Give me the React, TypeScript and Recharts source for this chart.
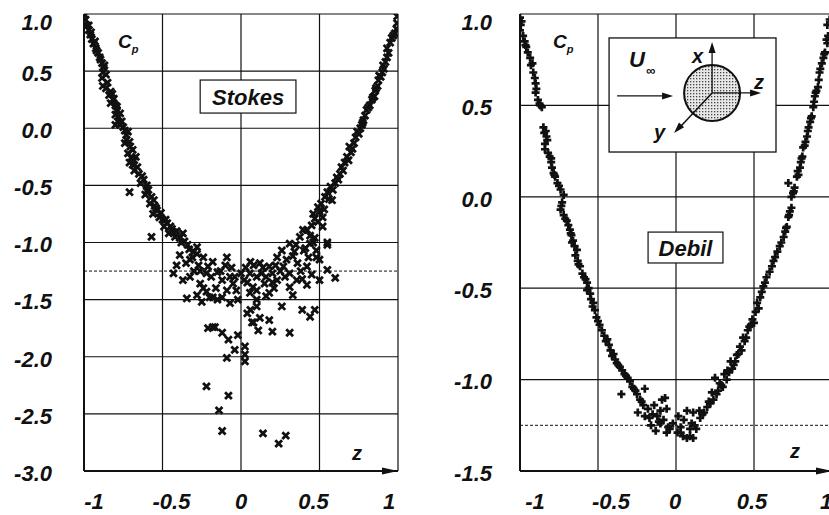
import React from 'react';
import {
  ScatterChart,
  Scatter,
  XAxis,
  YAxis,
  CartesianGrid,
  ReferenceLine,
  ReferenceArea,
  ReferenceDot,
} from 'recharts';

const FONT = '"Liberation Sans", Arial, Helvetica, sans-serif';
const INK = '#111';

// axis ticks
const zTicks = [-1, -0.5, 0, 0.5, 1];
const stokesTicks = [1, 0.5, 0, -0.5, -1, -1.5, -2, -2.5, -3];
const debilTicks = [1, 0.5, 0, -0.5, -1, -1.5];
const refCp = -1.25;

// Stokes (left panel) measured Cp vs z
const stokesZ = [
  -0.995, -0.99, -0.985, -0.97, -0.96, -0.95, -0.94, -0.925, -0.91, -0.9, -0.885, -0.875, -0.88, -0.86, -0.885,
  -0.88, -0.86, -0.83, -0.84, -0.815, -0.83, -0.8, -0.79, -0.8, -0.78, -0.785, -0.77, -0.8, -0.75, -0.74, -0.72,
  -0.73, -0.74, -0.71, -0.69, -0.72, -0.7, -0.71, -0.68, -0.66, -0.68, -0.65, -0.62, -0.64, -0.6, -0.59, -0.61,
  -0.57, -0.58, -0.55, -0.535, -0.56, -0.52, -0.5, -0.47, -0.49, -0.45, -0.43, -0.46, -0.41, -0.39, -0.37, -0.36,
  -0.34, -0.71, -0.57,
  -0.97, -0.955, -0.93, -0.92, -0.895, -0.87, -0.85, -0.82, -0.81, -0.79, -0.77, -0.76, -0.73, -0.705, -0.67,
  -0.69, -0.63, -0.6, -0.555, -0.54, -0.51, -0.48, -0.44, -0.42, -0.38, -0.33, -0.31, -0.35, -0.28,
  -0.28, -0.3, -0.24, -0.39, -0.325, -0.41, -0.43, -0.37, -0.325, -0.26, -0.24, -0.345, -0.2, -0.21, -0.15, -0.09,
  -0.12, -0.07, -0.05, -0.12, -0.07, -0.02, -0.15, -0.27, -0.3, -0.22, -0.18, -0.1, -0.06, -0.03, -0.16, -0.22,
  -0.25, -0.28,
  -0.26, -0.19, -0.13, -0.04, 0.0, 0.02, 0.06, 0.14, 0.16, 0.22, 0.25, 0.28, 0.33, 0.35, 0.41, 0.43, 0.47, 0.39,
  0.2, 0.1, -0.18, -0.09,
  0.057, 0.04, 0.076, 0.057, 0.1, 0.13, 0.15, 0.18, 0.23, 0.18, 0.23, 0.26, 0.29, 0.27, 0.31, 0.355, 0.31, 0.42,
  0.33, 0.26, 0.31, 0.375, 0.395, 0.44, 0.48, 0.5, 0.55, 0.42, 0.5, 0.55, 0.6, 0.03, 0.08, 0.1, 0.12, 0.2, 0.21,
  0.16, 0.36, 0.38, 0.45, 0.34,
  0.39, 0.44, 0.47, 0.06, 0.1, 0.12, 0.08, -0.18,
  -0.21, -0.166, -0.12, -0.08, -0.02, 0.025, -0.04, -0.09, 0.025, 0.025, 0.07, 0.11, 0.2, 0.31, 0.04, 0.18,
  -0.22, -0.08, -0.14, -0.12, 0.14, 0.285, 0.24,
  0.995, 0.994, 0.99, 0.98, 0.95, 0.96, 0.94, 0.93, 0.92, 0.9, 0.91, 0.875, 0.89, 0.855, 0.87, 0.834, 0.85, 0.8,
  0.82, 0.78, 0.79, 0.76, 0.77, 0.73, 0.75, 0.69, 0.72, 0.675, 0.7, 0.64, 0.66, 0.61, 0.63, 0.57, 0.6, 0.535, 0.55,
  0.49, 0.51, 0.47, 0.52, 0.46, 0.53, 0.42, 0.46, 0.55, 0.4, 0.48, 0.52, 0.58, 0.44,
  0.97, 0.93, 0.905, 0.88, 0.86, 0.84, 0.81, 0.775, 0.74, 0.71, 0.685, 0.65, 0.62, 0.585, 0.56, 0.5, 0.49, 0.45,
];
const stokesCp = [
  0.99, 0.95, 0.9, 0.86, 0.82, 0.78, 0.74, 0.7, 0.66, 0.62, 0.57, 0.53, 0.49, 0.47, 0.44,
  0.37, 0.35, 0.32, 0.29, 0.25, 0.22, 0.2, 0.16, 0.12, 0.1, 0.06, 0.03, 0.03, 0.01, -0.02, -0.03,
  -0.1, -0.13, -0.12, -0.19, -0.22, -0.26, -0.3, -0.28, -0.34, -0.37, -0.4, -0.45, -0.48, -0.5, -0.54, -0.58,
  -0.6, -0.66, -0.68, -0.72, -0.75, -0.78, -0.8, -0.83, -0.86, -0.86, -0.91, -0.92, -0.9, -0.96, -0.92, -0.99,
  -1.02, -0.56, -0.95,
  0.9, 0.84, 0.76, 0.68, 0.6, 0.55, 0.4, 0.3, 0.26, 0.19, 0.13, 0.06, -0.06, -0.16, -0.25,
  -0.32, -0.42, -0.55, -0.63, -0.7, -0.74, -0.8, -0.88, -0.95, -1.0, -1.06, -1.13, -1.18, -1.1,
  -1.04, -1.08, -1.13, -1.11, -1.15, -1.2, -1.27, -1.33, -1.3, -1.36, -1.4, -1.49, -1.48, -1.21, -1.26, -1.13,
  -1.33, -1.3, -1.36, -1.48, -1.53, -1.5, -1.5, -1.2, -1.25, -1.27, -1.17, -1.2, -1.22, -1.42, -1.4, -1.43,
  -1.52, -1.46,
  -1.25, -1.3, -1.25, -1.3, -1.27, -1.33, -1.17, -1.22, -1.3, -1.2, -1.25, -1.3, -1.12, -1.02, -1.05, -1.13, -0.96,
  -1.32, -1.35, -1.42, -1.48, -1.42,
  -1.27, -1.35, -1.39, -1.44, -1.5, -1.27, -1.36, -1.21, -1.13, -1.44, -1.33, -1.07, -1.15, -1.21, -1.27, -1.33,
  -1.39, -1.37, -1.46, -1.56, -1.01, -0.95, -0.89, -1.01, -1.07, -1.15, -1.02, -1.21, -1.33, -1.24, -1.31, -1.22,
  -1.2, -1.3, -1.18, -1.27, -1.4, -1.47, -1.18, -1.25, -1.28, -1.08,
  -1.59, -1.65, -1.59, -1.59, -1.56, -1.66, -1.7, -1.74,
  -1.75, -1.74, -1.79, -1.85, -1.81, -1.91, -1.94, -2.01, -1.98, -2.04, -1.7, -1.77, -1.78, -1.79, -1.62, -1.68,
  -2.26, -2.34, -2.47, -2.65, -2.67, -2.69, -2.76,
  0.98, 0.92, 0.87, 0.83, 0.75, 0.79, 0.66, 0.62, 0.58, 0.49, 0.52, 0.42, 0.45, 0.33, 0.37, 0.25, 0.28, 0.16,
  0.2, 0.07, 0.11, 0.0, 0.03, -0.08, -0.05, -0.16, -0.13, -0.25, -0.21, -0.34, -0.3, -0.43, -0.4, -0.51, -0.48,
  -0.6, -0.56, -0.69, -0.66, -0.79, -0.78, -0.75, -0.71, -0.89, -1.0, -1.0, -1.07, -1.13, -0.86, -0.63, -0.94,
  0.81, 0.7, 0.55, 0.46, 0.35, 0.27, 0.18, 0.05, -0.03, -0.18, -0.28, -0.37, -0.45, -0.54, -0.62, -0.73, -0.82, -0.85,
];

// Debil (right panel) computed Cp vs z
const debilZ = [
  -1.0, -0.995, -1.0, -0.98, -0.97, -0.96, -0.95, -0.935, -0.92, -0.915, -0.905, -0.9, -0.9, -0.885, -0.875, -0.86,
  -0.85, -0.845, -0.83, -0.84, -0.84, -0.82, -0.81, -0.8, -0.795, -0.785, -0.775, -0.76, -0.74, -0.72, -0.73, -0.74,
  -0.72, -0.7, -0.69, -0.68, -0.67, -0.66, -0.667, -0.635, -0.645, -0.63, -0.615, -0.6, -0.57, -0.58, -0.55, -0.57,
  -0.53, -0.545, -0.51, -0.52, -0.475, -0.49, -0.44, -0.46, -0.42, -0.43, -0.39, -0.4, -0.36, -0.38, -0.33, -0.345,
  -0.295, -0.31, -0.26, -0.28, -0.35, -0.2, -0.23, -0.245, -0.18, -0.17, -0.12, -0.1, -0.06, -0.07, -0.09, -0.06,
  -0.02, 0.01, -0.14, -0.21, -0.16, -0.13, -0.08, -0.04, -0.2, -0.25, -0.1,
  -0.99, -0.965, -0.93, -0.895, -0.87, -0.835, -0.825, -0.8, -0.78, -0.75, -0.735, -0.71, -0.675, -0.65, -0.625,
  -0.59, -0.56, -0.535, -0.5, -0.45, -0.41, -0.37, -0.32, -0.27, -0.22, -0.15, -0.11, -0.05,
  0.045, 0.09, 0.07, 0.11, 0.1, 0.155, 0.2, 0.24, 0.23, 0.27, 0.3, 0.25, 0.325, 0.36, 0.35, 0.39, 0.41, 0.43, 0.46,
  0.49, 0.51, 0.52, 0.07, 0.11, 0.03, 0.05, 0.13, 0.18, 0.22, 0.28, 0.31, 0.33, 0.38, 0.4, 0.44, 0.47, 0.5, 0.015,
  0.09, 0.15,
  0.03, 0.12, 0.17, 0.21, 0.26, 0.29, 0.34, 0.37, 0.42, 0.45, 0.48, 0.53,
  0.54, 0.56, 0.58, 0.6, 0.615, 0.635, 0.65, 0.665, 0.69, 0.7, 0.71, 0.72, 0.73, 0.74, 0.74, 0.75, 0.76, 0.72, 0.775,
  0.78, 0.795, 0.8, 0.81, 0.815, 0.83, 0.84, 0.85, 0.86, 0.87, 0.88, 0.885, 0.89, 0.9, 0.91, 0.915, 0.92, 0.935,
  0.945, 0.955, 0.97, 0.975, 0.97, 0.985,
  0.55, 0.57, 0.625, 0.675, 0.705, 0.725, 0.755, 0.785, 0.805, 0.825, 0.845, 0.865, 0.895, 0.925, 0.95, 0.965,
];
const debilCp = [
  0.98, 0.94, 0.91, 0.88, 0.85, 0.82, 0.79, 0.76, 0.73, 0.68, 0.65, 0.62, 0.57, 0.53, 0.51, 0.49,
  0.38, 0.35, 0.33, 0.29, 0.26, 0.24, 0.22, 0.19, 0.16, 0.13, 0.11, 0.075, 0.04, 0.01, -0.03, -0.07,
  -0.1, -0.13, -0.155, -0.18, -0.21, -0.24, -0.25, -0.29, -0.32, -0.35, -0.38, -0.42, -0.47, -0.45, -0.53, -0.51,
  -0.58, -0.56, -0.66, -0.62, -0.73, -0.7, -0.78, -0.76, -0.84, -0.81, -0.89, -0.86, -0.93, -0.91, -0.97, -0.95,
  -1.01, -0.99, -1.06, -1.04, -1.08, -1.05, -1.11, -1.18, -1.16, -1.21, -1.2, -1.24, -1.29, -1.1, -1.11, -1.16,
  -1.24, -1.29, -1.14, -1.14, -1.25, -1.28, -1.22, -1.27, -1.2, -1.08, -1.17,
  0.96, 0.83, 0.72, 0.59, 0.5, 0.36, 0.31, 0.21, 0.12, 0.06, -0.05, -0.12, -0.2, -0.27, -0.37,
  -0.44, -0.5, -0.6, -0.68, -0.79, -0.87, -0.92, -0.98, -1.05, -1.12, -1.19, -1.23, -1.26,
  -1.31, -1.31, -1.17, -1.18, -1.24, -1.21, -1.15, -1.11, -1.07, -1.06, -1.04, -0.99, -1.0, -0.94, -0.9, -0.865,
  -0.82, -0.77, -0.73, -0.67, -0.63, -0.58, -1.32, -1.32, -1.26, -1.22, -1.27, -1.18, -1.13, -1.02, -0.97, -0.95,
  -0.9, -0.86, -0.79, -0.71, -0.69, -1.2, -1.27, -1.17,
  -1.29, -1.25, -1.19, -1.12, -1.08, -1.03, -0.96, -0.92, -0.84, -0.77, -0.7, -0.61,
  -0.55, -0.49, -0.44, -0.41, -0.38, -0.33, -0.3, -0.27, -0.22, -0.19, -0.165, -0.11, -0.08, -0.06, 0.0, 0.02, 0.05,
  0.075, 0.11, 0.14, 0.16, 0.19, 0.22, 0.27, 0.3, 0.33, 0.38, 0.41, 0.44, 0.49, 0.52, 0.55, 0.58, 0.6, 0.64, 0.68,
  0.73, 0.76, 0.79, 0.84, 0.88, 0.94, 0.97,
  -0.52, -0.47, -0.35, -0.25, -0.17, -0.1, 0.03, 0.12, 0.21, 0.28, 0.36, 0.43, 0.57, 0.7, 0.78, 0.86,
];

const stokesData = stokesZ.map((z, i) => ({ z, cp: stokesCp[i] }));
const debilData = debilZ.map((z, i) => ({ z, cp: debilCp[i] }));

const labelStyle: React.CSSProperties = {
  fontFamily: FONT,
  fontWeight: 'bold',
  fontStyle: 'italic',
  fontSize: 22,
  fill: INK,
};

const CrossX = (p: any) => {
  const { cx, cy } = p;
  const r = 3.4;
  return (
    <path
      d={`M${cx - r},${cy - r}L${cx + r},${cy + r}M${cx - r},${cy + r}L${cx + r},${cy - r}`}
      stroke={INK}
      strokeWidth={2.8}
    />
  );
};

const CrossPlus = (p: any) => {
  const { cx, cy } = p;
  const r = 4;
  return (
    <path
      d={`M${cx - r},${cy}L${cx + r},${cy}M${cx},${cy - r}L${cx},${cy + r}`}
      stroke={INK}
      strokeWidth={2.7}
    />
  );
};

function arrowHead(tx: number, ty: number, dx: number, dy: number, len = 11, half = 3.5) {
  const m = Math.hypot(dx, dy);
  const ux = dx / m;
  const uy = dy / m;
  const bx = tx - ux * len;
  const by = ty - uy * len;
  return `${tx},${ty} ${bx - uy * half},${by + ux * half} ${bx + uy * half},${by - ux * half}`;
}

const BoxLabel = (text: string) => (p: any) => {
  const { x, y, width, height } = p;
  return (
    <g>
      <rect x={x} y={y} width={width} height={height} fill="#fff" stroke={INK} strokeWidth={1.2} />
      <text x={x + width / 2} y={y + height / 2 + 8} textAnchor="middle" style={labelStyle}>
        {text}
      </text>
    </g>
  );
};

const FlowInset = (p: any) => {
  const { x, y, width, height } = p;
  const cx = x + 103;
  const cy = y + 55;
  const small = { ...labelStyle, fontSize: 20 };
  return (
    <g>
      <defs>
        <pattern id="stipple" width="3" height="3" patternUnits="userSpaceOnUse">
          <rect width="3" height="3" fill="#e8e8e8" />
          <rect width="1.3" height="1.3" fill="#444" />
        </pattern>
      </defs>
      <rect x={x} y={y} width={width} height={height} fill="#fff" stroke={INK} strokeWidth={1.3} />
      <text x={x + 20} y={y + 29} style={labelStyle}>U</text>
      <text x={x + 37} y={y + 37} style={{ ...labelStyle, fontSize: 13 }}>∞</text>
      <line x1={x + 8} y1={y + 58} x2={x + 55} y2={y + 58} stroke={INK} strokeWidth={1.3} />
      <polygon points={arrowHead(x + 64, y + 58, 1, 0)} fill={INK} />
      <circle cx={cx} cy={cy} r={28} fill="url(#stipple)" stroke={INK} strokeWidth={2} />
      <line x1={cx} y1={cy} x2={cx} y2={y + 14} stroke={INK} strokeWidth={1.3} />
      <polygon points={arrowHead(cx, y + 4, 0, -1)} fill={INK} />
      <line x1={cx} y1={cy} x2={x + 142} y2={cy} stroke={INK} strokeWidth={1.3} />
      <polygon points={arrowHead(x + 152, cy, 1, 0)} fill={INK} />
      <line x1={cx} y1={cy} x2={x + 72} y2={y + 88} stroke={INK} strokeWidth={1.6} />
      <polygon points={arrowHead(x + 65, y + 95, -37, 40)} fill={INK} />
      <text x={x + 83} y={y + 25} style={small}>x</text>
      <text x={x + 145} y={y + 51} style={small}>z</text>
      <text x={x + 45} y={y + 101} style={small}>y</text>
    </g>
  );
};

const CpLabel = (p: any) => (
  <text x={p.cx} y={p.cy} style={{ ...labelStyle, fontSize: 19 }}>
    C
    <tspan dy={5} style={{ fontSize: 11 }}>p</tspan>
  </text>
);

const ZLabel = (p: any) => (
  <text x={p.cx} y={p.cy} style={{ ...labelStyle, fontSize: 20 }}>z</text>
);

const AxisArrow = (p: any) => <polygon points={arrowHead(p.cx, p.cy, 1, 0, 16, 3.5)} fill={INK} />;

const makeZTick = (shift: Record<string, number>) => (p: any) => {
  const v = p.payload.value;
  return (
    <text x={p.x + (shift[String(v)] ?? 0)} y={p.y} dy="0.71em" textAnchor="middle" style={labelStyle}>
      {String(v)}
    </text>
  );
};

const CpTick = (p: any) => {
  const v = p.payload.value;
  return (
    <text x={p.x} y={p.y + (v === 1 ? 8 : 2)} dy="0.355em" textAnchor="end" style={labelStyle}>
      {v.toFixed(1)}
    </text>
  );
};

interface PanelProps {
  data: { z: number; cp: number }[];
  yTicks: number[];
  width: number;
  margin: { top: number; right: number; bottom: number; left: number };
  tickMargin: number;
  zShift: Record<string, number>;
  marker: (p: any) => React.ReactElement;
  cpAt: [number, number];
  zAt: [number, number];
  children?: React.ReactNode;
}

function Panel({ data, yTicks, width, margin, tickMargin, zShift, marker, cpAt, zAt, children }: PanelProps) {
  const yMin = yTicks[yTicks.length - 1];
  return (
    <ScatterChart width={width} height={515} margin={margin}>
      <CartesianGrid stroke={INK} strokeWidth={1.2} horizontal vertical />
      <XAxis
        type="number"
        dataKey="z"
        domain={[-1, 1]}
        ticks={zTicks}
        height={44}
        tickSize={0}
        tickMargin={22}
        tickLine={false}
        axisLine={{ stroke: INK, strokeWidth: 2 }}
        tick={makeZTick(zShift)}
        allowDataOverflow
      />
      <YAxis
        type="number"
        dataKey="cp"
        domain={[yMin, 1]}
        ticks={yTicks}
        width={60}
        tickSize={0}
        tickMargin={tickMargin}
        tickLine={false}
        axisLine={{ stroke: INK, strokeWidth: 2 }}
        tick={CpTick}
        allowDataOverflow
      />
      <ReferenceLine y={refCp} stroke={INK} strokeWidth={1} strokeDasharray="3 2" />
      {children}
      <Scatter data={data} shape={marker} isAnimationActive={false} />
      <ReferenceDot x={cpAt[0]} y={cpAt[1]} shape={CpLabel} ifOverflow="visible" />
      <ReferenceDot x={zAt[0]} y={zAt[1]} shape={ZLabel} ifOverflow="visible" />
      <ReferenceDot x={1} y={yMin} shape={AxisArrow} ifOverflow="visible" />
    </ScatterChart>
  );
}

export default function App() {
  return (
    <div
      style={{
        position: 'fixed',
        left: 0,
        top: 0,
        width: 829,
        height: 515,
        overflow: 'hidden',
        background: '#fff',
      }}
    >
      <div style={{ position: 'absolute', left: 0, top: 0 }}>
        <Panel
          data={stokesData}
          yTicks={stokesTicks}
          width={420}
          margin={{ top: 14, right: 22, bottom: 0, left: 24 }}
          tickMargin={32}
          zShift={{ '-1': 10, '-0.5': 9, '0': 0, '0.5': -6, '1': -9 }}
          marker={CrossX}
          cpAt={[-0.783, 0.7]}
          zAt={[0.707, -2.9]}
        >
          <ReferenceArea x1={-0.26} x2={0.35} y1={0.133} y2={0.422} shape={BoxLabel('Stokes')} ifOverflow="visible" />
        </Panel>
      </div>
      <div style={{ position: 'absolute', left: 420, top: 0 }}>
        <Panel
          data={debilData}
          yTicks={debilTicks}
          width={430}
          margin={{ top: 14, right: 18, bottom: 0, left: 40 }}
          tickMargin={28}
          zShift={{ '-1': 15, '-0.5': 13, '0': -1, '0.5': -2, '1': -6 }}
          marker={CrossPlus}
          cpAt={[-0.788, 0.814]}
          zAt={[0.731, -1.43]}
        >
          <ReferenceArea x1={-0.179} x2={0.301} y1={-0.362} y2={-0.193} shape={BoxLabel('Debil')} ifOverflow="visible" />
          <ReferenceArea x1={-0.429} x2={0.641} y1={0.245} y2={0.869} shape={FlowInset} ifOverflow="visible" />
        </Panel>
      </div>
    </div>
  );
}
